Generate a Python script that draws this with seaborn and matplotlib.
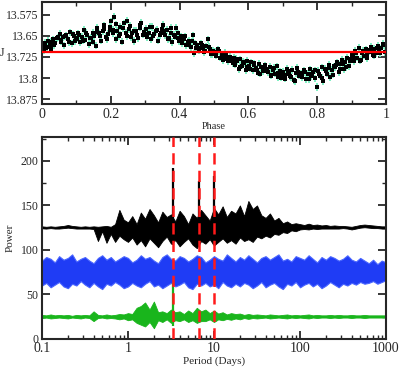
import numpy as np
import seaborn as sns
from matplotlib import pyplot as plt
from matplotlib.ticker import MultipleLocator, LogLocator, FuncFormatter, NullFormatter

# ---- top panel: phased J light curve ----
PHASE = [0.002, 0.006, 0.009, 0.013, 0.018, 0.022, 0.027, 0.031, 0.038, 0.044,
         0.051, 0.056, 0.061, 0.065, 0.071, 0.075, 0.081, 0.086, 0.092, 0.097,
         0.102, 0.106, 0.111, 0.117, 0.121, 0.126, 0.132, 0.137, 0.142, 0.147,
         0.152, 0.157, 0.161, 0.166, 0.172, 0.176, 0.181, 0.186, 0.191, 0.197,
         0.201, 0.205, 0.209, 0.214, 0.219, 0.223, 0.228, 0.233, 0.238, 0.244,
         0.248, 0.252, 0.258, 0.263, 0.268, 0.274, 0.279, 0.284, 0.289, 0.295,
         0.301, 0.306, 0.311, 0.316, 0.321, 0.327, 0.332, 0.337, 0.343, 0.348,
         0.353, 0.358, 0.363, 0.369, 0.374, 0.379, 0.384, 0.389, 0.394, 0.398,
         0.403, 0.408, 0.413, 0.418, 0.423, 0.428, 0.433, 0.438, 0.443, 0.448,
         0.452, 0.457, 0.462, 0.467, 0.472, 0.477, 0.482, 0.487, 0.492, 0.497,
         0.502, 0.507, 0.512, 0.517, 0.522, 0.527, 0.532, 0.537, 0.542, 0.547,
         0.552, 0.557, 0.562, 0.567, 0.572, 0.577, 0.582, 0.587, 0.592, 0.597,
         0.602, 0.607, 0.612, 0.617, 0.622, 0.627, 0.632, 0.637, 0.642, 0.647,
         0.652, 0.657, 0.662, 0.667, 0.672, 0.677, 0.682, 0.687, 0.692, 0.697,
         0.702, 0.707, 0.712, 0.717, 0.722, 0.727, 0.732, 0.737, 0.742, 0.747,
         0.752, 0.757, 0.762, 0.767, 0.772, 0.778, 0.783, 0.788, 0.793, 0.798,
         0.803, 0.808, 0.813, 0.818, 0.823, 0.828, 0.833, 0.838, 0.843, 0.848,
         0.853, 0.858, 0.863, 0.867, 0.872, 0.877, 0.882, 0.887, 0.892, 0.897,
         0.902, 0.906, 0.911, 0.916, 0.921, 0.926, 0.931, 0.936, 0.941, 0.946,
         0.951, 0.956, 0.961, 0.966, 0.971, 0.976, 0.981, 0.986, 0.991, 0.996]
J_MAG = [13.688, 13.702, 13.675, 13.694, 13.668, 13.681, 13.697, 13.662, 13.676, 13.659,
         13.642, 13.671, 13.655, 13.684, 13.648, 13.662, 13.637, 13.676, 13.651, 13.668,
         13.659, 13.641, 13.672, 13.653, 13.628, 13.664, 13.646, 13.679, 13.657, 13.638,
         13.652, 13.685, 13.622, 13.641, 13.667, 13.633, 13.612, 13.654, 13.643, 13.628,
         13.598, 13.641, 13.582, 13.662, 13.631, 13.652, 13.617, 13.671, 13.605, 13.638,
         13.596, 13.627, 13.654, 13.641, 13.668, 13.632, 13.659, 13.612, 13.603, 13.645,
         13.625, 13.654, 13.638, 13.661, 13.618, 13.643, 13.632, 13.667, 13.647, 13.626,
         13.611, 13.648, 13.629, 13.657, 13.639, 13.672, 13.646, 13.622, 13.658, 13.669,
         13.652, 13.677, 13.661, 13.683, 13.672, 13.668, 13.689, 13.648, 13.712, 13.694,
         13.684, 13.701, 13.676, 13.692, 13.708, 13.687, 13.662, 13.698, 13.714, 13.703,
         13.706, 13.721, 13.698, 13.727, 13.715, 13.736, 13.711, 13.732, 13.741, 13.724,
         13.738, 13.729, 13.752, 13.741, 13.768, 13.733, 13.756, 13.747, 13.771, 13.739,
         13.758, 13.744, 13.773, 13.752, 13.766, 13.781, 13.749, 13.762, 13.776, 13.755,
         13.768, 13.779, 13.761, 13.792, 13.772, 13.784, 13.758, 13.797, 13.776, 13.787,
         13.779, 13.802, 13.768, 13.786, 13.794, 13.771, 13.808, 13.782, 13.764, 13.791,
         13.783, 13.798, 13.772, 13.805, 13.786, 13.769, 13.794, 13.778, 13.801, 13.832,
         13.775, 13.791, 13.762, 13.812, 13.768, 13.784, 13.752, 13.796, 13.771, 13.758,
         13.762, 13.744, 13.778, 13.751, 13.736, 13.769, 13.742, 13.728, 13.757, 13.733,
         13.718, 13.741, 13.702, 13.727, 13.692, 13.735, 13.711, 13.721, 13.698, 13.729,
         13.706, 13.688, 13.717, 13.697, 13.712, 13.685, 13.703, 13.694, 13.679, 13.708]
# second set of points, same phasing
PHASE_2 = [0.004, 0.015, 0.025, 0.035, 0.047, 0.054, 0.068, 0.078, 0.089, 0.099,
           0.108, 0.119, 0.129, 0.139, 0.149, 0.159, 0.169, 0.179, 0.189, 0.199,
           0.207, 0.216, 0.226, 0.236, 0.246, 0.256, 0.266, 0.276, 0.286, 0.297,
           0.304, 0.314, 0.324, 0.334, 0.345, 0.356, 0.366, 0.376, 0.386, 0.396,
           0.406, 0.416, 0.426, 0.436, 0.446, 0.455, 0.465, 0.475, 0.485, 0.495,
           0.505, 0.515, 0.525, 0.535, 0.545, 0.555, 0.565, 0.575, 0.585, 0.595,
           0.605, 0.615, 0.625, 0.635, 0.645, 0.655, 0.665, 0.675, 0.685, 0.695,
           0.705, 0.715, 0.725, 0.735, 0.745, 0.755, 0.765, 0.775, 0.785, 0.795,
           0.805, 0.815, 0.825, 0.835, 0.845, 0.855, 0.865, 0.875, 0.885, 0.895,
           0.904, 0.914, 0.924, 0.934, 0.944, 0.954, 0.964, 0.974, 0.984, 0.994]
J_MAG_2 = [13.681, 13.690, 13.672, 13.684, 13.655, 13.664, 13.651, 13.673, 13.644, 13.661,
           13.648, 13.667, 13.639, 13.658, 13.671, 13.636, 13.652, 13.624, 13.661, 13.617,
           13.628, 13.609, 13.644, 13.623, 13.651, 13.614, 13.631, 13.646, 13.621, 13.636,
           13.642, 13.617, 13.651, 13.628, 13.639, 13.633, 13.662, 13.621, 13.653, 13.641,
           13.664, 13.652, 13.681, 13.669, 13.676, 13.693, 13.681, 13.702, 13.689, 13.716,
           13.713, 13.704, 13.728, 13.719, 13.735, 13.746, 13.731, 13.759, 13.742, 13.762,
           13.767, 13.748, 13.771, 13.784, 13.762, 13.774, 13.789, 13.763, 13.781, 13.799,
           13.788, 13.774, 13.797, 13.812, 13.778, 13.791, 13.779, 13.803, 13.786, 13.773,
           13.784, 13.799, 13.776, 13.764, 13.788, 13.753, 13.767, 13.749, 13.761, 13.739,
           13.726, 13.712, 13.738, 13.704, 13.716, 13.699, 13.721, 13.693, 13.711, 13.684]
J_ERR = 0.013
J_MEAN = 13.707

# ---- bottom panel: periodograms (envelopes) ----
PERIOD = [0.1, 0.112, 0.126, 0.141, 0.158, 0.178, 0.2, 0.224, 0.251, 0.282,
          0.316, 0.355, 0.398, 0.447, 0.501, 0.562, 0.631, 0.708, 0.794, 0.891,
          1, 1.12, 1.26, 1.41, 1.58, 1.78, 2, 2.24, 2.51, 2.82,
          3.16, 3.55, 3.98, 4.47, 5.01, 5.62, 6.31, 7.08, 7.94, 8.91,
          10, 11.2, 12.6, 14.1, 15.8, 17.8, 20, 22.4, 25.1, 28.2,
          31.6, 35.5, 39.8, 44.7, 50.1, 56.2, 63.1, 70.8, 79.4, 89.1,
          100, 112, 126, 141, 158, 178, 200, 224, 251, 282,
          316, 355, 398, 447, 501, 562, 631, 708, 794, 891, 1000]
BLACK_HI = [126.5, 126, 126.5, 126, 126.5, 127, 128, 127, 126.5, 126,
            126.5, 126, 126.5, 126, 126.5, 127, 126, 129, 145, 134,
            131, 138, 129, 142, 135, 146, 139, 131, 143, 137,
            140, 132, 144, 138, 129, 141, 136, 145, 139, 133,
            147, 140, 149, 137, 144, 141, 150, 138, 155, 146,
            150, 139, 136, 141, 133, 136, 130, 132, 129, 130,
            129, 128, 129.5, 128, 128.5, 127.5, 128, 127, 127.5, 127,
            127, 126.5, 126, 127, 128, 128.5, 128, 127.5, 127, 126.5, 126.5]
BLACK_LO = [124.5, 124, 124.5, 124, 124, 124.5, 125, 124.5, 124, 124,
            124, 124, 123.5, 110, 121, 108, 118, 109, 116, 112,
            109, 114, 106, 111, 104, 113, 108, 103, 110, 115,
            107, 111, 104, 109, 113, 106, 102, 110, 107, 112,
            105, 109, 113, 108, 111, 107, 114, 110, 112, 109,
            115, 113, 116, 114, 118, 117, 120, 119, 122, 121,
            123, 123.5, 123, 124, 123.5, 124, 124, 124, 124, 124,
            124.5, 124, 123, 124, 125, 125.5, 125, 124.5, 124.5, 124, 124]
BLUE_HI = [88, 92, 90, 86, 93, 89, 91, 95, 87, 90,
           92, 88, 85, 91, 94, 89, 92, 87, 90, 93,
           91, 86, 89, 94, 90, 92, 88, 85, 92, 95,
           90, 88, 93, 91, 87, 90, 94, 92, 86, 89,
           93, 90, 88, 95, 91, 87, 92, 89, 94, 90,
           86, 91, 93, 89, 92, 95, 88, 90, 87, 93,
           91, 89, 94, 90, 86, 92, 89, 93, 91, 88,
           90, 94, 89, 87, 91, 88, 85, 89, 84, 88, 86]
BLUE_LO = [60, 63, 58, 61, 64, 59, 57, 62, 60, 65,
           61, 58, 63, 59, 56, 62, 60, 64, 61, 57,
           59, 63, 60, 58, 62, 65, 59, 61, 57, 60,
           63, 59, 61, 64, 58, 56, 62, 60, 63, 59,
           61, 57, 64, 60, 58, 62, 59, 63, 61, 57,
           60, 64, 58, 61, 63, 59, 56, 62, 60, 64,
           58, 61, 63, 59, 62, 57, 60, 64, 61, 58,
           62, 60, 63, 61, 64, 62, 63, 65, 62, 64, 66]
GREEN_HI = [27, 26.5, 27.5, 26.5, 27, 26.5, 27, 26, 27, 26.5,
            27, 26.5, 31, 27, 26.5, 27.5, 26.5, 27, 28, 27.5,
            29, 28, 35, 37, 41, 33, 42, 30, 31, 29,
            33, 30, 31, 28, 32, 29, 35, 31, 33, 29,
            32, 28.5, 30, 27.5, 29, 28, 28.5, 27, 28, 27,
            27.5, 27, 26.5, 27.5, 27, 26.5, 27, 27.5, 26.5, 27,
            26.5, 27, 27.5, 26.5, 27, 26.5, 26.5, 27, 26.5, 27,
            26.5, 26.5, 27, 26.5, 26.5, 27, 26.5, 26.5, 26.5, 26.5, 26.5]
GREEN_LO = [23.5, 24, 23, 23.5, 24, 23.5, 23, 24, 23.5, 23,
            24, 23.5, 20, 23.5, 24, 23, 23.5, 23, 22, 23,
            21, 22, 18, 16, 14, 19, 12, 21, 19, 22,
            18, 21, 20, 22, 19, 21, 18, 20, 20, 22,
            19, 22, 21, 22.5, 21.5, 23, 22, 23.5, 22.5, 23.5,
            23, 23.5, 24, 23, 23.5, 24, 23.5, 23, 24, 23.5,
            24, 23.5, 23, 24, 23.5, 24, 24, 23.5, 24, 23.5,
            24, 24, 23.5, 24, 24, 23.5, 24, 24, 24, 24, 24]

SPIKE_PERIOD = [3.33, 6.67, 10.0]
BLACK_SPIKE_LO = [105, 104, 106]
BLACK_SPIKE_HI = [192, 177, 183]
GREEN_SPIKE_PERIOD = [3.33]
GREEN_SPIKE_LO = [15]
GREEN_SPIKE_HI = [63]

sns.set_style("ticks")
plt.rcParams['font.family'] = ['Liberation Serif', 'DejaVu Serif']
plt.rcParams['axes.linewidth'] = 1.5
for a in ('x', 'y'):
    plt.rcParams[a + 'tick.direction'] = 'in'
    plt.rcParams[a + 'tick.major.width'] = 1.3
    plt.rcParams[a + 'tick.minor.width'] = 1.0
    plt.rcParams[a + 'tick.major.size'] = 5.5
    plt.rcParams[a + 'tick.minor.size'] = 3
    plt.rcParams[a + 'tick.labelsize'] = 8.5
    plt.rcParams[a + 'tick.major.pad'] = 2.5

fig = plt.figure(figsize=(4.0, 3.68), dpi=100)

# top panel
ax1 = fig.add_axes([0.105, 0.717, 0.86, 0.277])
phase_all = PHASE + PHASE_2
mag_all = J_MAG + J_MAG_2
ax1.errorbar(phase_all, mag_all, yerr=J_ERR, fmt='none', ecolor='#74eebd', elinewidth=1.3, capsize=0, zorder=1)
sns.scatterplot(x=phase_all, y=mag_all, marker='s', color='black', s=6, linewidth=0, ax=ax1, zorder=2)
ax1.axhline(J_MEAN, color='red', lw=1.6, zorder=3)
ax1.set_xlim(0, 1)
ax1.set_ylim(13.893, 13.53)
ax1.set_yticks([13.575, 13.65, 13.725, 13.8, 13.875])
ax1.set_yticklabels(['13.575', '13.65', '13.725', '13.8', '13.875'])
ax1.xaxis.set_major_locator(MultipleLocator(0.2))
ax1.xaxis.set_minor_locator(MultipleLocator(0.1))
ax1.xaxis.set_major_formatter(FuncFormatter(lambda v, p: '%g' % round(v, 2)))
ax1.tick_params(which='both', top=True, right=True)
ax1.tick_params(axis='x', labelsize=10)
ax1.set_xlabel('Phase', fontsize=7.5, labelpad=1)
ax1.set_ylabel('J', fontsize=8.5, rotation=0, labelpad=3, va='center')

# bottom panel
ax2 = fig.add_axes([0.105, 0.079, 0.86, 0.549])
ax2.set_xscale('log')
ax2.fill_between(PERIOD, BLUE_LO, BLUE_HI, facecolor='#1f3cf5', edgecolor='#4a66ff', lw=0.8, zorder=2)
ax2.fill_between(PERIOD, GREEN_LO, GREEN_HI, facecolor='#19b51c', edgecolor='#19b51c', lw=0.6, zorder=2)
ax2.fill_between(PERIOD, BLACK_LO, BLACK_HI, facecolor='black', edgecolor='black', lw=0.6, zorder=2)
ax2.vlines(SPIKE_PERIOD, BLACK_SPIKE_LO, BLACK_SPIKE_HI, color='black', lw=1.6, zorder=3)
ax2.vlines(GREEN_SPIKE_PERIOD, GREEN_SPIKE_LO, GREEN_SPIKE_HI, color='#19b51c', lw=1.6, zorder=3)
for p in SPIKE_PERIOD:
    ax2.axvline(p, color='#ff1a1a', lw=1.8, ls=(0, (4.5, 2.5)), zorder=4)
ax2.set_xlim(0.1, 1000)
ax2.set_ylim(0, 227)
ax2.yaxis.set_major_locator(MultipleLocator(50))
ax2.yaxis.set_minor_locator(MultipleLocator(25))
ax2.xaxis.set_major_locator(LogLocator(base=10))
ax2.xaxis.set_minor_locator(LogLocator(base=10, subs=np.arange(2, 10)))
ax2.xaxis.set_major_formatter(FuncFormatter(lambda v, p: '%g' % v))
ax2.xaxis.set_minor_formatter(NullFormatter())
ax2.tick_params(which='both', top=True, right=True)
ax2.tick_params(axis='x', labelsize=10)
ax2.set_xlabel('Period (Days)', fontsize=8, labelpad=1)
ax2.set_ylabel('Power', fontsize=8, labelpad=4)

fig.savefig('out.png', dpi=100)
